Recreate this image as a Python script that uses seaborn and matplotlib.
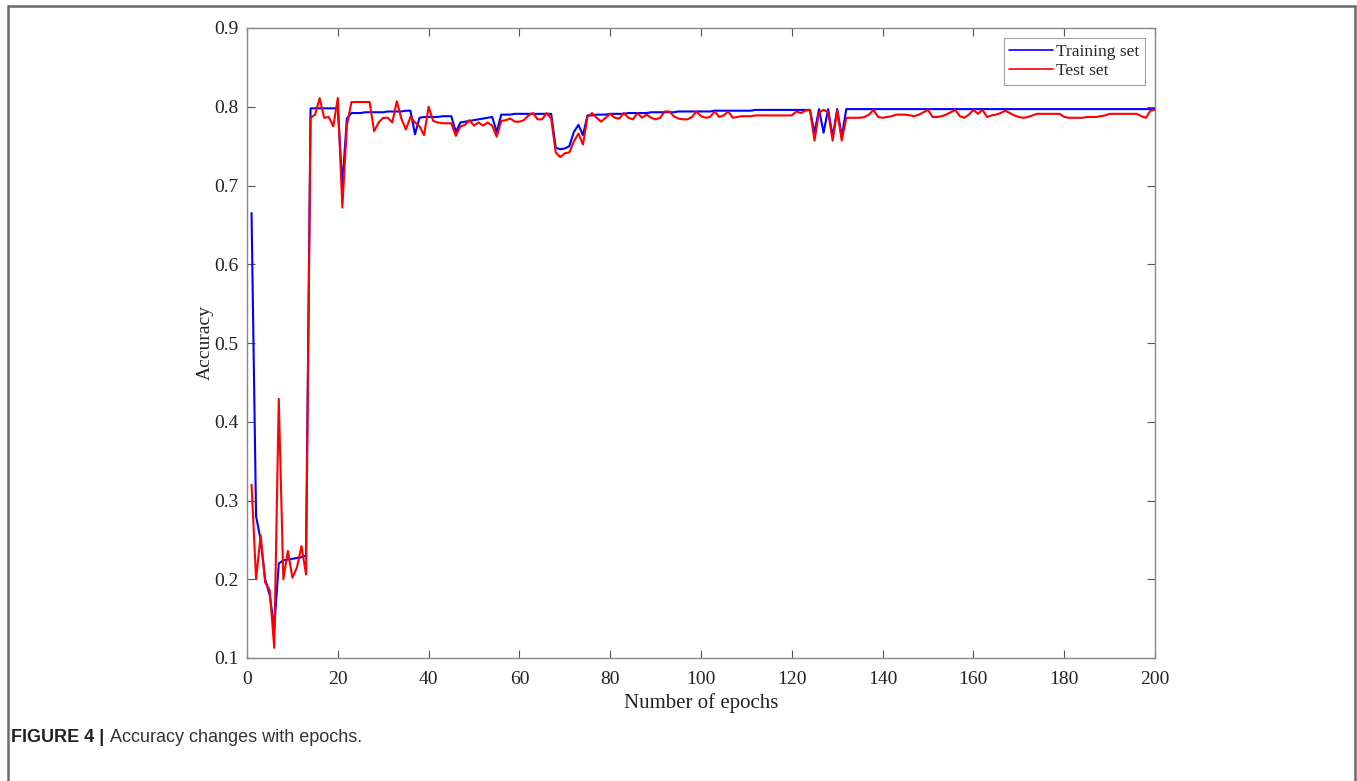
import numpy as np
import pandas as pd
import matplotlib
matplotlib.use("Agg")
import matplotlib.pyplot as plt
from matplotlib.lines import Line2D
import seaborn as sns

# datos
epochs = list(range(1, 201))

train_acc = [
    0.665, 0.280, 0.250, 0.200, 0.180, 0.138, 0.220, 0.224, 0.225, 0.226,
    0.227, 0.228, 0.230, 0.798, 0.798, 0.798, 0.798, 0.798, 0.798, 0.798,
    0.700, 0.785, 0.792, 0.792, 0.792, 0.793, 0.793, 0.793, 0.793, 0.793,
    0.794, 0.794, 0.794, 0.794, 0.795, 0.795, 0.765, 0.786, 0.787, 0.787,
    0.787, 0.787, 0.788, 0.788, 0.788, 0.768, 0.780, 0.781, 0.782, 0.783,
    0.784, 0.785, 0.786, 0.787, 0.768, 0.790, 0.790, 0.790, 0.791, 0.791,
    0.791, 0.791, 0.791, 0.791, 0.791, 0.791, 0.791, 0.748, 0.746, 0.747,
    0.750, 0.768, 0.777, 0.764, 0.789, 0.789, 0.790, 0.790, 0.790, 0.791,
    0.791, 0.791, 0.791, 0.792, 0.792, 0.792, 0.792, 0.792, 0.793, 0.793,
    0.793, 0.793, 0.793, 0.793, 0.794, 0.794, 0.794, 0.794, 0.794, 0.794,
    0.794, 0.794, 0.795, 0.795, 0.795, 0.795, 0.795, 0.795, 0.795, 0.795,
    0.795, 0.796, 0.796, 0.796, 0.796, 0.796, 0.796, 0.796, 0.796, 0.796,
    0.796, 0.796, 0.796, 0.796, 0.767, 0.797, 0.767, 0.797, 0.762, 0.797,
    0.762, 0.797, 0.797, 0.797, 0.797, 0.797, 0.797, 0.797, 0.797, 0.797,
    0.797, 0.797, 0.797, 0.797, 0.797, 0.797, 0.797, 0.797, 0.797, 0.797,
    0.797, 0.797, 0.797, 0.797, 0.797, 0.797, 0.797, 0.797, 0.797, 0.797,
    0.797, 0.797, 0.797, 0.797, 0.797, 0.797, 0.797, 0.797, 0.797, 0.797,
    0.797, 0.797, 0.797, 0.797, 0.797, 0.797, 0.797, 0.797, 0.797, 0.797,
    0.797, 0.797, 0.797, 0.797, 0.797, 0.797, 0.797, 0.797, 0.797, 0.797,
    0.797, 0.797, 0.797, 0.797, 0.797, 0.797, 0.797, 0.797, 0.797, 0.797,
]

test_acc = [
    0.320, 0.200, 0.256, 0.196, 0.186, 0.113, 0.429, 0.200, 0.236, 0.202,
    0.215, 0.242, 0.206, 0.786, 0.790, 0.811, 0.786, 0.787, 0.775, 0.811,
    0.672, 0.776, 0.806, 0.806, 0.806, 0.806, 0.806, 0.769, 0.780, 0.786,
    0.786, 0.780, 0.807, 0.785, 0.771, 0.787, 0.780, 0.775, 0.764, 0.800,
    0.782, 0.780, 0.779, 0.779, 0.779, 0.763, 0.775, 0.777, 0.783, 0.776,
    0.780, 0.776, 0.780, 0.776, 0.762, 0.782, 0.783, 0.785, 0.781, 0.781,
    0.783, 0.789, 0.792, 0.784, 0.784, 0.792, 0.785, 0.742, 0.736, 0.741,
    0.742, 0.756, 0.766, 0.752, 0.787, 0.792, 0.786, 0.781, 0.786, 0.791,
    0.786, 0.785, 0.792, 0.786, 0.784, 0.792, 0.786, 0.790, 0.786, 0.784,
    0.786, 0.794, 0.794, 0.788, 0.785, 0.784, 0.784, 0.787, 0.794, 0.788,
    0.786, 0.787, 0.794, 0.787, 0.789, 0.794, 0.786, 0.787, 0.788, 0.788,
    0.788, 0.789, 0.789, 0.789, 0.789, 0.789, 0.789, 0.789, 0.789, 0.789,
    0.794, 0.792, 0.795, 0.796, 0.757, 0.793, 0.796, 0.793, 0.757, 0.795,
    0.757, 0.786, 0.786, 0.786, 0.786, 0.787, 0.790, 0.796, 0.787, 0.786,
    0.787, 0.788, 0.790, 0.790, 0.790, 0.789, 0.788, 0.790, 0.793, 0.796,
    0.787, 0.787, 0.788, 0.790, 0.793, 0.796, 0.788, 0.786, 0.790, 0.796,
    0.791, 0.796, 0.787, 0.789, 0.790, 0.792, 0.795, 0.792, 0.789, 0.787,
    0.786, 0.787, 0.789, 0.791, 0.791, 0.791, 0.791, 0.791, 0.791, 0.787,
    0.786, 0.786, 0.786, 0.786, 0.787, 0.787, 0.787, 0.788, 0.789, 0.791,
    0.791, 0.791, 0.791, 0.791, 0.791, 0.791, 0.788, 0.786, 0.795, 0.796,
]

x_ticks = [0, 20, 40, 60, 80, 100, 120, 140, 160, 180, 200]
y_ticks = [0.1, 0.2, 0.3, 0.4, 0.5, 0.6, 0.7, 0.8, 0.9]

df = pd.DataFrame({
    "epoch": epochs * 2,
    "acc": train_acc + test_acc,
    "serie": ["Training set"] * len(epochs) + ["Test set"] * len(epochs),
})

sns.set_style("white")
plt.rcParams["font.family"] = ["Liberation Serif", "DejaVu Serif"]

fig = plt.figure(figsize=(13.57, 7.81), dpi=100)
ax = fig.add_axes([247 / 1357, 1 - 658 / 781, (1155 - 247) / 1357, (658 - 28) / 781])

sns.lineplot(data=df, x="epoch", y="acc", hue="serie",
             palette={"Training set": "#0000ff", "Test set": "#ff0000"},
             linewidth=1.5, ax=ax)

ax.set_xlim(0, 200)
ax.set_ylim(0.1, 0.9)
ax.set_xticks(x_ticks)
ax.set_yticks(y_ticks)
ax.set_yticklabels([f"{v:.1f}" for v in y_ticks])
ax.tick_params(direction="in", length=6, width=0.8, color="#555555",
               labelsize=14, top=True, right=True, bottom=True, left=True,
               labelcolor="#222222")
ax.tick_params(axis="x", pad=9)
ax.tick_params(axis="y", pad=6)
for s in ax.spines.values():
    s.set_color("#888888")
    s.set_linewidth(1.0)
ax.set_xlabel("Number of epochs", fontsize=15, color="#222222", labelpad=4)
ax.set_ylabel("Accuracy", fontsize=14, color="#222222", labelpad=0)

leg = ax.legend(loc="upper right", fontsize=12.5, frameon=True, fancybox=False,
                borderpad=0.3, handlelength=2.5, handletextpad=0.2,
                labelspacing=0.2, borderaxespad=0.6)
leg.get_frame().set_edgecolor("#888888")
leg.get_frame().set_linewidth(0.8)
for ln in leg.get_lines():
    ln.set_linewidth(1.2)

# marco de la figura
fx0, fx1, fy0 = 8 / 1357, 1355 / 1357, 1 - 6 / 781
for xs, ys in [([fx0, fx0], [0, fy0]), ([fx0, fx1], [fy0, fy0]), ([fx1, fx1], [0, fy0])]:
    fig.add_artist(Line2D(xs, ys, transform=fig.transFigure, color="#6a6a6a", linewidth=1.8))

# pie de figura
t1 = fig.text(11 / 1357, 1 - 738 / 781, "FIGURE 4 |", fontsize=13, fontweight="bold",
              family=["Liberation Sans", "DejaVu Sans"], color="#222222", va="center")
fig.canvas.draw()
bb = t1.get_window_extent()
fig.text((bb.x1 + 6) / 1357, 1 - 738 / 781, "Accuracy changes with epochs.", fontsize=13,
         family=["Liberation Sans", "DejaVu Sans"], color="#333333", va="center")

fig.savefig("out.png", dpi=100)
